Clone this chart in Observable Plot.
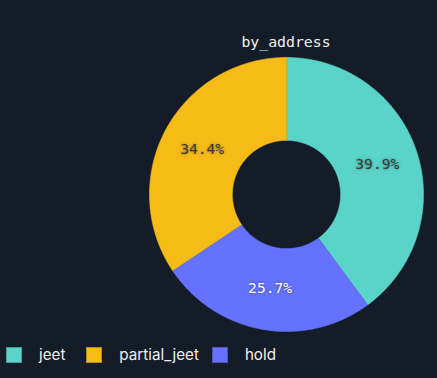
<!DOCTYPE html>
<html><head><meta charset="utf-8">
<script src="https://cdn.jsdelivr.net/npm/d3@7"></script>
<script src="https://cdn.jsdelivr.net/npm/@observablehq/plot@0.6"></script>
<style>
html,body{margin:0;padding:0;background:#131c27;}
body{width:437px;height:378px;overflow:hidden;position:relative;font-family:Inter,"Noto Sans",sans-serif;}
#chart{position:absolute;left:0;top:0;}
#title{position:absolute;left:149px;width:274px;top:33px;text-align:center;font-family:"DejaVu Sans Mono",monospace;font-size:14.8px;color:#f0f0f0;line-height:18px;}
#legend{position:absolute;left:6px;top:347px;display:flex;align-items:center;font-size:15.2px;color:#f0f0f0;line-height:16px;}
#legend .sw{width:16px;height:16px;box-sizing:border-box;border:1px solid rgba(0,0,0,0.25);margin-right:17px;}
#chart text{text-shadow:0 0 3px rgba(0,0,0,0.45);}
</style>
</head><body>
<div id="chart"></div>
<div id="title"></div>
<div id="legend"></div>
<script>
const title = "by_address";
const sliceOrder = ["jeet", "hold", "partial_jeet"];
const sliceValues = [39.9, 25.7, 34.4];
const legendOrder = ["jeet", "partial_jeet", "hold"];
const legendColors = ["#5ad4c8", "#f6bb17", "#6572ff"];
const legendGaps = [21, 13, 0];
const labelColors = {jeet: "#3a3a3a", partial_jeet: "#3a3a3a", hold: "#ffffff"};

const innerR = 0.395, outerR = 1;
const total = d3.sum(sliceValues);
const pts = [];
const labels = [];
let acc = 0;
sliceOrder.forEach((cat, i) => {
  const a0 = acc / total * 2 * Math.PI;
  acc += sliceValues[i];
  const a1 = acc / total * 2 * Math.PI;
  const n = Math.max(8, Math.ceil((a1 - a0) / 0.01));
  for (let k = 0; k <= n; k++) {
    const a = a0 + (a1 - a0) * k / n;
    pts.push({cat, x: outerR * Math.sin(a), y: outerR * Math.cos(a)});
  }
  for (let k = n; k >= 0; k--) {
    const a = a0 + (a1 - a0) * k / n;
    pts.push({cat, x: innerR * Math.sin(a), y: innerR * Math.cos(a)});
  }
  const am = (a0 + a1) / 2, rm = (innerR + outerR) / 2;
  labels.push({cat, x: rm * Math.sin(am), y: rm * Math.cos(am), text: sliceValues[i].toFixed(1) + "%"});
});

const chart = Plot.plot({
  width: 437, height: 378,
  marginLeft: 149, marginRight: 14, marginTop: 57, marginBottom: 47,
  x: {domain: [-1, 1], axis: null},
  y: {domain: [-1, 1], axis: null},
  color: {domain: legendOrder, range: legendColors},
  style: {background: "transparent", overflow: "visible"},
  marks: [
    Plot.line(pts, {x: "x", y: "y", z: "cat", fill: "cat", stroke: "cat", strokeWidth: 0.6, curve: "linear"}),
    Plot.text(labels.filter(d => labelColors[d.cat] !== "#ffffff"), {x: "x", y: "y", text: "text", fill: "#3a3a3a", fontSize: 14.6, fontFamily: "DejaVu Sans Mono"}),
    Plot.text(labels.filter(d => labelColors[d.cat] === "#ffffff"), {x: "x", y: "y", text: "text", fill: "#ffffff", fontSize: 14.6, fontFamily: "DejaVu Sans Mono"})
  ]
});
document.getElementById("chart").appendChild(chart);
document.getElementById("title").textContent = title;

const leg = document.getElementById("legend");
legendOrder.forEach((c, i) => {
  const sw = document.createElement("div");
  sw.className = "sw"; sw.style.background = legendColors[i];
  const lab = document.createElement("div");
  lab.textContent = c; lab.style.marginRight = legendGaps[i] + "px";
  leg.appendChild(sw); leg.appendChild(lab);
});
</script>
</body></html>
